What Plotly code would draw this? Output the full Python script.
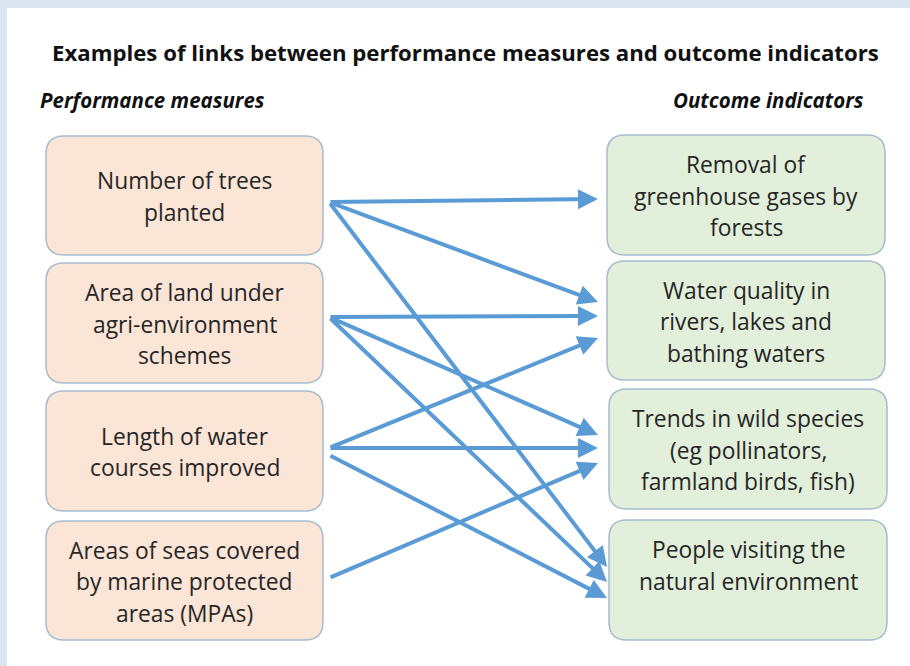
import plotly.graph_objects as go

# ---- data ----
title_text = "Examples of links between performance measures and outcome indicators"
left_heading = "Performance measures"
right_heading = "Outcome indicators"

measures = [
    ["Number of trees", "planted"],
    ["Area of land under", "agri-environment", "schemes"],
    ["Length of water", "courses improved"],
    ["Areas of seas covered", "by marine protected", "areas (MPAs)"],
]
outcomes = [
    ["Removal of", "greenhouse gases by", "forests"],
    ["Water quality in", "rivers, lakes and", "bathing waters"],
    ["Trends in wild species", "(eg pollinators,", "farmland birds, fish)"],
    ["People visiting the", "natural environment", ""],
]
# links: (measure index, outcome index)
links = [(0, 0), (0, 1), (0, 3),
         (1, 1), (1, 2), (1, 3),
         (2, 1), (2, 2), (2, 3),
         (3, 2)]

# ---- layout geometry (pixels) ----
W, H = 910, 666
left_boxes = [(46, 136, 323, 255), (46, 263, 323, 383), (46, 391, 323, 511), (46, 521, 323, 640)]
right_boxes = [(607, 135, 885, 255), (607, 261, 885, 380), (609, 389, 887, 509), (609, 520, 887, 640)]
start_pts = {(0, 0): (329, 202), (0, 1): (329, 202), (0, 3): (329, 202),
             (1, 1): (329, 317), (1, 2): (329, 317), (1, 3): (329, 317),
             (2, 1): (329, 448), (2, 2): (329, 448), (2, 3): (329, 455),
             (3, 2): (329, 578)}
end_pts = {(0, 0): (598, 199), (0, 1): (598, 302), (0, 3): (607, 567),
           (1, 1): (598, 316), (1, 2): (598, 435), (1, 3): (607, 582),
           (2, 1): (598, 338), (2, 2): (598, 448), (2, 3): (607, 598),
           (3, 2): (598, 463)}

FONT = "'Open Sans', 'Noto Sans', sans-serif"
LINE_H = 31.5


def rounded(x0, y0, x1, y1, r=18):
    return (f"M{x0+r},{y0} L{x1-r},{y0} Q{x1},{y0} {x1},{y0+r} "
            f"L{x1},{y1-r} Q{x1},{y1} {x1-r},{y1} L{x0+r},{y1} "
            f"Q{x0},{y1} {x0},{y1-r} L{x0},{y0+r} Q{x0},{y0} {x0+r},{y0} Z")


fig = go.Figure()
shapes = [dict(type="rect", xref="x", yref="y", x0=7, y0=8, x1=W + 5, y1=H + 5,
               fillcolor="white", line=dict(width=0), layer="below")]
annotations = []

for boxes, labels, fill in ((left_boxes, measures, "#fbe5d6"), (right_boxes, outcomes, "#e2efda")):
    for (x0, y0, x1, y1), lines in zip(boxes, labels):
        shapes.append(dict(type="path", path=rounded(x0, y0, x1, y1), xref="x", yref="y",
                           fillcolor=fill, line=dict(color="#a7bccf", width=1.5), layer="below"))
        n = len(lines)
        cy = (y0 + y1) / 2
        for i, t in enumerate(lines):
            if not t:
                continue
            y = cy + (i - (n - 1) / 2) * LINE_H
            annotations.append(dict(x=(x0 + x1) / 2, y=y + 1, xref="x", yref="y", text=t,
                                    showarrow=False, xanchor="center", yanchor="middle",
                                    font=dict(family=FONT, size=22.8, color="#262626")))

for lk in links:
    sx, sy = start_pts[lk]
    ex, ey = end_pts[lk]
    annotations.append(dict(x=ex, y=ey, ax=sx, ay=sy, xref="x", yref="y", axref="x", ayref="y",
                            text="", showarrow=True, arrowhead=2, arrowsize=1.0, arrowwidth=4,
                            arrowcolor="#5b9bd5", standoff=0, startstandoff=0))

annotations.append(dict(x=465, y=52, xref="x", yref="y", text="<b>" + title_text + "</b>",
                        showarrow=False, xanchor="center", yanchor="middle",
                        font=dict(family=FONT, size=22.2, color="#111111")))
annotations.append(dict(x=38, y=100, xref="x", yref="y", text="<b><i>" + left_heading + "</i></b>",
                        showarrow=False, xanchor="left", yanchor="middle",
                        font=dict(family=FONT, size=20.5, color="#111111")))
annotations.append(dict(x=866, y=100, xref="x", yref="y", text="<b><i>" + right_heading + "</i></b>",
                        showarrow=False, xanchor="right", yanchor="middle",
                        font=dict(family=FONT, size=20.5, color="#111111")))

fig.update_layout(
    width=W, height=H, margin=dict(l=0, r=0, t=0, b=0),
    paper_bgcolor="#dce6f1", plot_bgcolor="rgba(0,0,0,0)",
    xaxis=dict(range=[0, W], visible=False, fixedrange=True),
    yaxis=dict(range=[H, 0], visible=False, fixedrange=True),
    shapes=shapes, annotations=annotations, showlegend=False,
)
fig.write_html("out.html", config={"displayModeBar": False},
               post_script="document.body.style.margin='0';")
